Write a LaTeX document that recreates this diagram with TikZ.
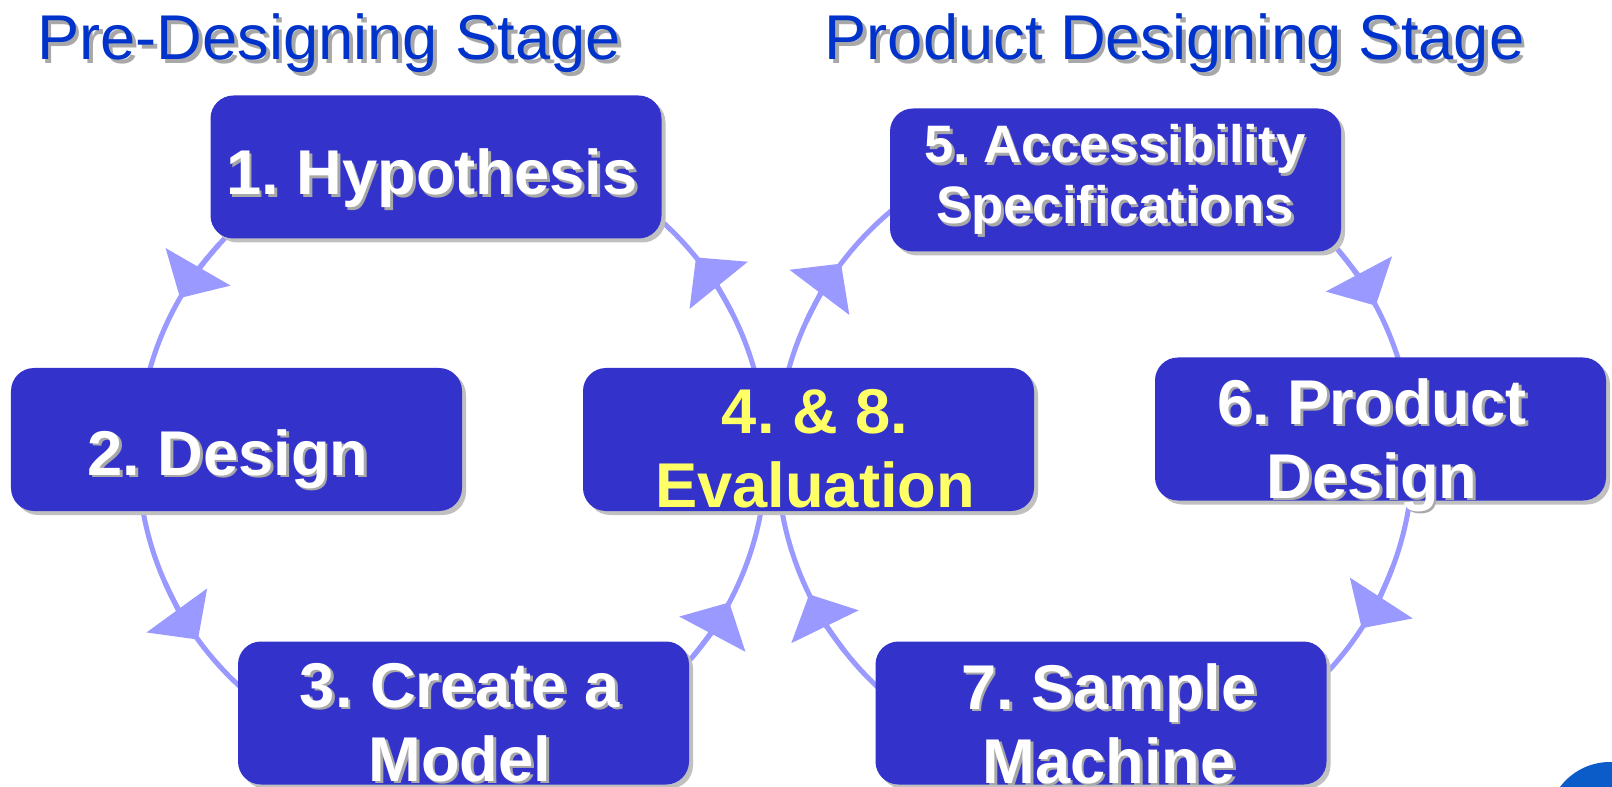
\documentclass[tikz,border=0pt]{standalone}
\usepackage{fontspec}
\setmainfont{Liberation Sans}
\usetikzlibrary{arrows.meta,shadows}
\frenchspacing

\definecolor{boxblue}{HTML}{3333CC}
\definecolor{ringblue}{HTML}{9999FF}
\definecolor{titleblue}{HTML}{0033CC}
\definecolor{evalyellow}{HTML}{FFFF66}
\definecolor{boxshade}{HTML}{C0C0C0}
\definecolor{txtshade}{HTML}{A8A8A8}
\definecolor{logoblue}{HTML}{0B5CC8}

\newcommand{\shtxt}[2][1.5pt]{\leavevmode\rlap{\kern#1\raisebox{-#1}{\color{txtshade}#2}}#2}

\tikzset{
	stagebox/.style={fill=boxblue, rounded corners=0.46cm, minimum width=9.02cm, minimum height=2.86cm, inner sep=0pt,
		drop shadow={shadow xshift=0.08cm, shadow yshift=-0.08cm, fill=boxshade, opacity=1}},
	steptext/.style={anchor=base, align=center, text=white, font=\bfseries\fontsize{36pt}{42pt}\selectfont},
	stagetitle/.style={anchor=base, text=titleblue, font=\fontsize{36pt}{42pt}\selectfont},
	ring/.style={draw=ringblue, line width=0.1cm},
	ringtip/.style={ring, -{Triangle[length=0.72cm, width=1.48cm]}}
}

\begin{document}
\begin{tikzpicture}
	\useasboundingbox (0,0) rectangle (32.24,-15.74);
	\clip (0,0) rectangle (32.24,-15.74);
	% the two loops
	\coordinate (pre) at (9.04,-9.10);
	\coordinate (prod) at (21.9,-9.10);
	\draw[ring] (pre) circle (6.28);
	\draw[ring] (prod) circle (6.36);
	% pre-designing loop goes anticlockwise
	\foreach \a in {150, 216, 332, 39}
		\draw[ringtip] (pre) ++(\a-12:6.28) arc[start angle=\a-12, end angle=\a, radius=6.28];
	% product loop goes clockwise
	\foreach \a in {143, 28, 327, 206}
		\draw[ringtip] (prod) ++(\a+12:6.36) arc[start angle=\a+12, end angle=\a, radius=6.36];
	% boxes
	\node[stagebox] (hyp) at (8.72,-3.34) {};
	\node[stagebox] (dsg) at (4.73,-8.79) {};
	\node[stagebox] (mdl) at (9.27,-14.26) {};
	\node[stagebox] (evl) at (16.17,-8.79) {};
	\node[stagebox] (acc) at (22.31,-3.60) {};
	\node[stagebox] (pdd) at (27.61,-8.58) {};
	\node[stagebox] (smp) at (22.02,-14.26) {};
	% texts, two-line ones sit on their last line
	\node[steptext] (hypt) at (8.64,-3.90) {\shtxt{1. Hypothesis}};
	\node[steptext] (dsgt) at (4.56,-9.50) {\shtxt{2. Design}};
	\node[steptext] (mdlt) at (9.20,-15.62) {\shtxt{3. Create a}\\\shtxt{Model}};
	\node[steptext, text=evalyellow] (evlt) at (16.30,-10.14) {4. \& 8.\\Evaluation};
	\node[steptext, font=\bfseries\fontsize{30pt}{35pt}\selectfont] (acct) at (22.30,-4.48) {\shtxt{5. Accessibility}\\\shtxt{Specifications}};
	\node[steptext] (pddt) at (27.44,-9.96) {\shtxt{6. Product}\\\shtxt{Design}};
	\node[steptext] (smpt) at (22.18,-15.66) {\shtxt{7. Sample}\\\shtxt{Machine}};
	% stage titles
	\node[stagetitle] (pret) at (6.58,-1.20) {\shtxt[2.2pt]{Pre-Designing Stage}};
	\node[stagetitle] (prodt) at (23.49,-1.20) {\shtxt[2.2pt]{Product Designing Stage}};
	% corner logo
	\fill[logoblue] (32.2,-16.49) circle (1.25);
\end{tikzpicture}
\end{document}
